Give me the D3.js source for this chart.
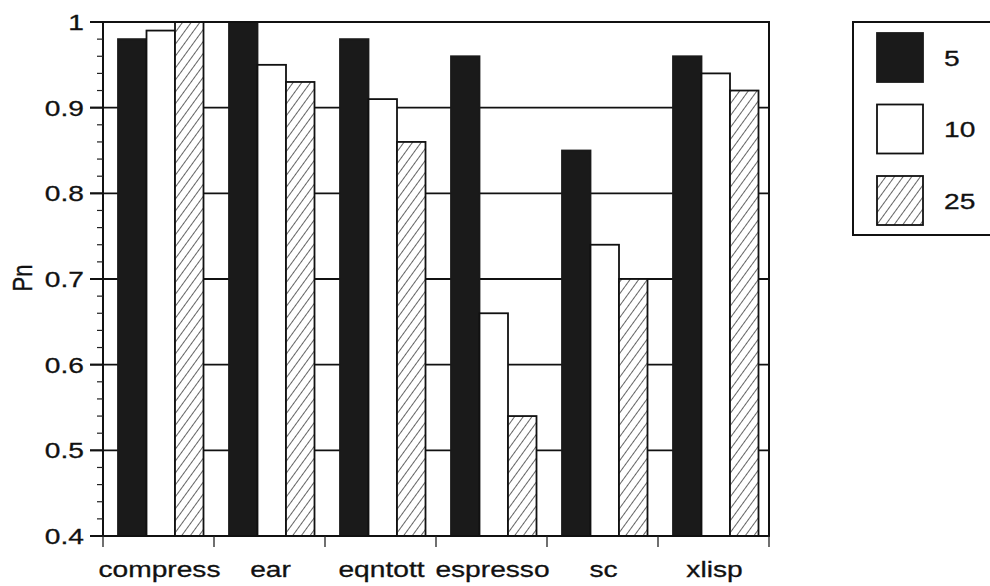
<!DOCTYPE html>
<html>
<head>
<meta charset="utf-8">
<script src="https://cdn.jsdelivr.net/npm/d3@7"></script>
<style>
  body { margin: 0; background: #fff; }
  svg { display: block; }
  text { font-family: "Liberation Sans", Arial, Helvetica, sans-serif; fill: #111; stroke: #111; stroke-width: 0.3; }
</style>
</head>
<body>
<svg id="chart"></svg>
<script>
// benchmarks on the x axis
const programs = ['compress', 'ear', 'eqntott', 'espresso', 'sc', 'xlisp']
// legend keys
const seriesKeys = ['5', '10', '25']
// Pn values per series, same order as programs
const pn5 = [0.98, 1.0, 0.98, 0.96, 0.85, 0.96]
const pn10 = [0.99, 0.95, 0.91, 0.66, 0.74, 0.94]
const pn25 = [1.0, 0.93, 0.86, 0.54, 0.70, 0.92]
const yTicks = [0.4, 0.5, 0.6, 0.7, 0.8, 0.9, 1]

const svgWidth = 990
const svgHeight = 586
const margin = { left: 103, right: 221, top: 22, bottom: 50 }
const stretch = 1.28 // the scan is wider than the type
const fontSize = 22

const svg = d3.select('#chart').attr('width', svgWidth).attr('height', svgHeight)

// hatch pattern for the "25" series
const defs = svg.append('defs')
defs
  .append('pattern')
  .attr('id', 'hatch')
  .attr('patternUnits', 'userSpaceOnUse')
  .attr('width', 7)
  .attr('height', 7)
  .attr('patternTransform', 'rotate(36)')
  .call((p) => {
    p.append('rect').attr('width', 7).attr('height', 7).attr('fill', '#fff')
    p.append('line')
      .attr('x1', 0).attr('y1', 0).attr('x2', 0).attr('y2', 7)
      .attr('stroke', '#222').attr('stroke-width', 1.4)
  })

const fills = { '5': '#1a1a1a', '10': '#fff', '25': 'url(#hatch)' }

const x0 = margin.left
const x1 = svgWidth - margin.right
const yTop = margin.top
const yBot = svgHeight - margin.bottom

const x = d3.scaleBand().domain(programs).range([x0, x1]).padding(0)
const inner = d3.scaleBand().domain(seriesKeys).range([15, 15 + 3 * 28.5]).padding(0)
const y = d3.scaleLinear().domain([0.4, 1]).range([yBot, yTop])

const rows = programs.map((p, i) => ({
  program: p,
  values: [
    { key: '5', v: pn5[i] },
    { key: '10', v: pn10[i] },
    { key: '25', v: pn25[i] },
  ],
}))

// gridlines
svg
  .append('g')
  .selectAll('line')
  .data(yTicks.filter((t) => t > 0.4 && t < 1))
  .join('line')
  .attr('x1', x0 - 13)
  .attr('x2', x1)
  .attr('y1', (d) => y(d))
  .attr('y2', (d) => y(d))
  .attr('stroke', '#111')
  .attr('stroke-width', 1.8)

// bars
svg
  .append('g')
  .selectAll('g')
  .data(rows)
  .join('g')
  .attr('transform', (d) => `translate(${x(d.program)},0)`)
  .selectAll('rect')
  .data((d) => d.values)
  .join('rect')
  .attr('x', (d) => inner(d.key))
  .attr('width', inner.bandwidth())
  .attr('y', (d) => y(d.v))
  .attr('height', (d) => y(0.4) - y(d.v))
  .attr('fill', (d) => fills[d.key])
  .attr('stroke', (d) => (d.key === '5' ? '#1a1a1a' : '#111'))
  .attr('stroke-width', 1.8)

// frame: top and right
svg.append('line')
  .attr('x1', x0 - 13).attr('x2', x1 + 1)
  .attr('y1', yTop).attr('y2', yTop)
  .attr('stroke', '#111').attr('stroke-width', 2)
svg.append('line')
  .attr('x1', x1).attr('x2', x1)
  .attr('y1', yTop).attr('y2', yBot)
  .attr('stroke', '#111').attr('stroke-width', 2)

// y axis with minor ticks every 0.02
const yAxis = svg.append('g').attr('transform', `translate(${x0},0)`)
yAxis.append('line')
  .attr('y1', yTop).attr('y2', yBot)
  .attr('stroke', '#111').attr('stroke-width', 2)
yAxis
  .selectAll('.minor')
  .data(d3.range(0.42, 1, 0.02).filter((t) => Math.abs(t * 10 - Math.round(t * 10)) > 0.01))
  .join('line')
  .attr('class', 'minor')
  .attr('x1', -6).attr('x2', 0)
  .attr('y1', (d) => y(d)).attr('y2', (d) => y(d))
  .attr('stroke', '#222').attr('stroke-width', 1.2)
yAxis
  .selectAll('.major')
  .data(yTicks)
  .join('line')
  .attr('class', 'major')
  .attr('x1', -13).attr('x2', 0)
  .attr('y1', (d) => y(d)).attr('y2', (d) => y(d))
  .attr('stroke', '#111').attr('stroke-width', 1.8)
yAxis
  .selectAll('g.lab')
  .data(yTicks)
  .join('g')
  .attr('class', 'lab')
  .attr('transform', (d) => `translate(-19,${y(d)}) scale(${stretch},1)`)
  .append('text')
  .attr('text-anchor', 'end')
  .attr('dy', '0.36em')
  .attr('font-size', fontSize)
  .text((d) => d3.format('~g')(d))

// x axis
const xAxis = svg.append('g').attr('transform', `translate(0,${yBot})`)
xAxis.append('line')
  .attr('x1', x0 - 13).attr('x2', x1 + 1)
  .attr('stroke', '#111').attr('stroke-width', 2)
xAxis
  .selectAll('.tick')
  .data(programs.map((p) => x(p)).concat([x1]))
  .join('line')
  .attr('class', 'tick')
  .attr('x1', (d) => d).attr('x2', (d) => d)
  .attr('y1', 0).attr('y2', 11)
  .attr('stroke', '#222').attr('stroke-width', 1.3)
xAxis
  .selectAll('g.lab')
  .data(programs)
  .join('g')
  .attr('class', 'lab')
  .attr('transform', (d) => `translate(${x(d) + x.bandwidth() / 2 + 1},41) scale(${stretch},1)`)
  .append('text')
  .attr('text-anchor', 'middle')
  .attr('font-size', fontSize)
  .text((d) => d)

// y label
svg.append('g')
  .attr('transform', `translate(32,278) scale(${stretch},1) rotate(-90)`)
  .append('text')
  .attr('text-anchor', 'middle')
  .attr('font-size', fontSize)
  .text('Pn')

// legend
const legend = svg.append('g')
legend.append('rect')
  .attr('x', 853).attr('y', 22)
  .attr('width', 145).attr('height', 213)
  .attr('fill', 'none').attr('stroke', '#111').attr('stroke-width', 2)
const items = legend
  .selectAll('g.item')
  .data(seriesKeys)
  .join('g')
  .attr('class', 'item')
  .attr('transform', (d, i) => `translate(877,${33 + i * 71.5})`)
items.append('rect')
  .attr('width', 46).attr('height', 49)
  .attr('fill', (d) => fills[d])
  .attr('stroke', (d) => (d === '5' ? '#1a1a1a' : '#111'))
  .attr('stroke-width', 1.8)
items.append('g')
  .attr('transform', `translate(67,25) scale(${stretch},1)`)
  .append('text')
  .attr('dy', '0.36em')
  .attr('font-size', fontSize)
  .text((d) => d)
</script>
</body>
</html>
